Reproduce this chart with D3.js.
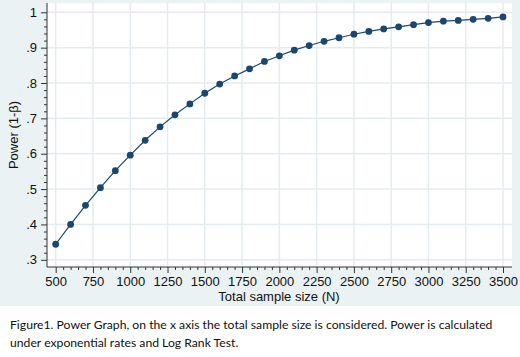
<!DOCTYPE html>
<html lang="en">
<head>
  <meta charset="UTF-8">
  <title>Power Graph</title>
  <script src="https://d3js.org/d3.v7.min.js"></script>
  <style>
    body {
      margin: 0;
      background: #fff;
    }
    svg {
      display: block;
    }
    .caption {
      font-family: Lato, "Open Sans", sans-serif;
      font-size: 12.2px;
      fill: #111;
    }
  </style>
</head>
<body>
<svg width="520" height="357"></svg>

<script>
  // sample sizes (N) and power
  const sampleSize = [500, 600, 700, 800, 900, 1000, 1100, 1200, 1300, 1400, 1500,
    1600, 1700, 1800, 1900, 2000, 2100, 2200, 2300, 2400, 2500,
    2600, 2700, 2800, 2900, 3000, 3100, 3200, 3300, 3400, 3500];
  const power = [0.344, 0.400, 0.454, 0.504, 0.552, 0.596, 0.638, 0.676, 0.710, 0.741, 0.771,
    0.797, 0.820, 0.840, 0.861, 0.877, 0.893, 0.906, 0.918, 0.928, 0.938,
    0.946, 0.953, 0.959, 0.965, 0.971, 0.975, 0.977, 0.980, 0.983, 0.987];
  const xTicks = [500, 750, 1000, 1250, 1500, 1750, 2000, 2250, 2500, 2750, 3000, 3250, 3500];
  const yTicks = [0.3, 0.4, 0.5, 0.6, 0.7, 0.8, 0.9, 1];
  const captionLines = [
    "Figure1. Power Graph, on the x axis the total sample size is considered. Power is calculated",
    "under exponential rates and Log Rank Test."
  ];

  const svg = d3.select("svg");
  const navy = "#1a476f";
  const bg = "#eaf2f3";
  const font = "'Liberation Sans', Arial, sans-serif";

  // outer graph region
  svg.append("rect").attr("x", 0).attr("y", 0).attr("width", 520).attr("height", 306).attr("fill", bg);

  const plot = { left: 47, right: 512, top: 3, bottom: 267 };
  svg.append("rect")
    .attr("x", plot.left).attr("y", plot.top)
    .attr("width", plot.right - plot.left).attr("height", plot.bottom - plot.top)
    .attr("fill", "#fff");

  const x = d3.scaleLinear().domain([500, 3500]).range([55.7, 503]);
  const y = d3.scaleLinear().domain([0.3, 1]).range([259.8, 12.3]);

  // grid
  const grid = svg.append("g").attr("stroke", "#e4ecef").attr("stroke-width", 1.5);
  grid.selectAll(".gx").data(xTicks).join("line")
    .attr("x1", d => x(d)).attr("x2", d => x(d))
    .attr("y1", plot.top).attr("y2", plot.bottom);
  grid.selectAll(".gy").data(yTicks).join("line")
    .attr("x1", plot.left).attr("x2", plot.right)
    .attr("y1", d => y(d)).attr("y2", d => y(d));

  // minor ticks
  const xMinor = d3.range(550, 3500, 50).filter(v => v % 250 !== 0);
  const yMinor = d3.range(32, 100, 2).map(v => v / 100).filter(v => Math.round(v * 100) % 10 !== 0);

  svg.append("g")
    .attr("transform", `translate(0,${plot.bottom})`)
    .call(d3.axisBottom(x).tickValues(xMinor).tickSize(3).tickFormat(""))
    .call(g => g.select(".domain").remove());
  svg.append("g")
    .attr("transform", `translate(0,${plot.bottom})`)
    .call(d3.axisBottom(x).tickValues(xTicks).tickSize(6).tickPadding(4).tickFormat(d3.format("d")))
    .call(g => g.select(".domain").remove());

  svg.append("g")
    .attr("transform", `translate(${plot.left},0)`)
    .call(d3.axisLeft(y).tickValues(yMinor).tickSize(3).tickFormat(""))
    .call(g => g.select(".domain").remove());
  svg.append("g")
    .attr("transform", `translate(${plot.left},0)`)
    .call(d3.axisLeft(y).tickValues(yTicks).tickSize(6).tickPadding(4)
      .tickFormat(d => d === 1 ? "1" : d3.format(".1f")(d).replace(/^0/, "")))
    .call(g => g.select(".domain").remove());

  svg.selectAll(".tick line").attr("stroke", "#333");
  svg.selectAll(".tick text")
    .style("font-family", font).style("font-size", "13px").attr("fill", "#111");

  // axis lines
  svg.append("line").attr("x1", plot.left).attr("x2", plot.right)
    .attr("y1", plot.bottom).attr("y2", plot.bottom).attr("stroke", "#333");
  svg.append("line").attr("x1", plot.left).attr("x2", plot.left)
    .attr("y1", plot.top).attr("y2", plot.bottom).attr("stroke", "#333");

  // titles
  svg.append("text")
    .attr("x", 279).attr("y", 301)
    .attr("text-anchor", "middle")
    .style("font-family", font).style("font-size", "13px").attr("fill", "#111")
    .text("Total sample size (N)");
  svg.append("text")
    .attr("transform", `translate(18,${(plot.top + plot.bottom) / 2}) rotate(-90)`)
    .attr("text-anchor", "middle")
    .style("font-family", font).style("font-size", "13px").attr("fill", "#111")
    .text("Power (1-β)");

  // series
  const pts = sampleSize.map((n, i) => [n, power[i]]);
  svg.append("path").datum(pts)
    .attr("fill", "none").attr("stroke", navy).attr("stroke-width", 1.2)
    .attr("d", d3.line().x(d => x(d[0])).y(d => y(d[1])));
  svg.selectAll(".pt").data(pts).join("circle")
    .attr("cx", d => x(d[0])).attr("cy", d => y(d[1])).attr("r", 3.4)
    .attr("fill", navy);

  // caption
  svg.selectAll(".caption").data(captionLines).join("text")
    .attr("class", "caption")
    .attr("x", 10).attr("y", (d, i) => 329 + i * 18)
    .text(d => d);
</script>
</body>
</html>
